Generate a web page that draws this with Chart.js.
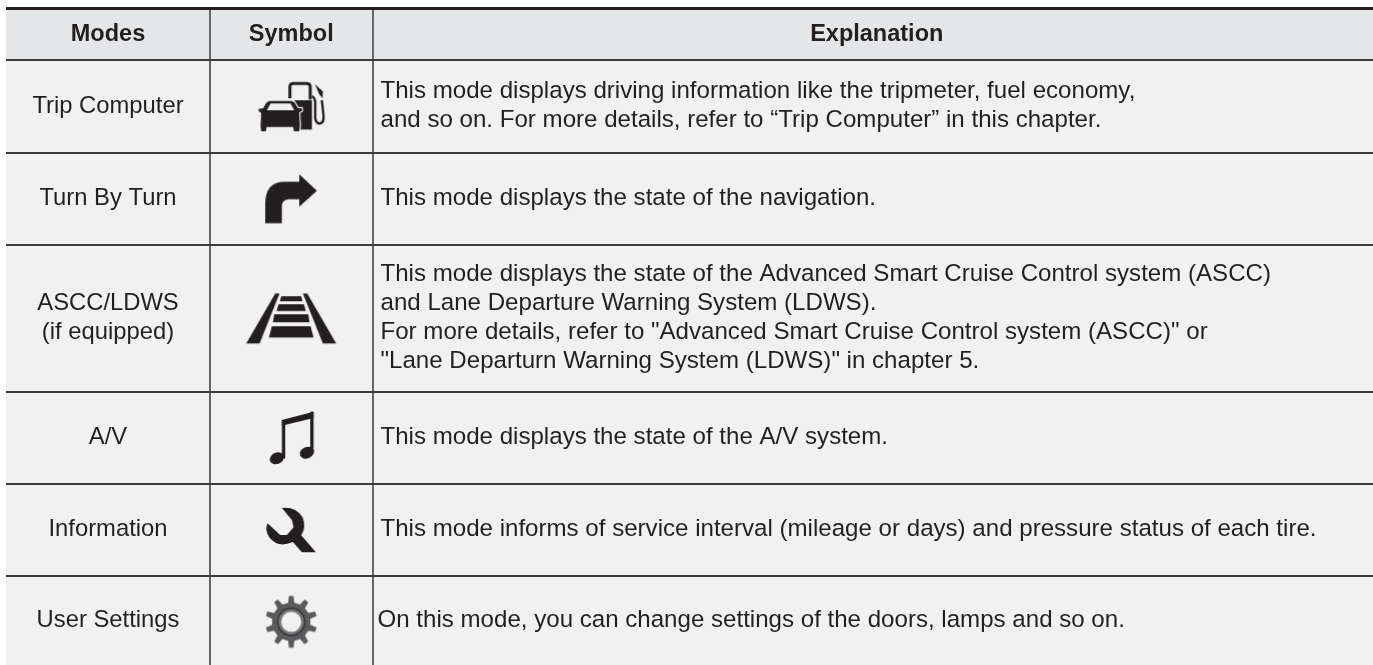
<!DOCTYPE html>
<html>
<head>
<meta charset="utf-8">
<style>
html, body { margin:0; padding:0; background:#fff; overflow:hidden; }
canvas { display:block; }
</style>
<script src="https://cdn.jsdelivr.net/npm/chart.js@4/dist/chart.umd.min.js"></script>
</head>
<body>
<canvas id="modesTable" width="1373" height="665"></canvas>
<script>
// table data
const columnEdges = [6, 210, 372.5, 1373];
const rowEdges = [8, 60, 152.5, 244.5, 392, 484, 576, 665];
const headers = ['Modes', 'Symbol', 'Explanation'];
const modes = [['Trip Computer'], ['Turn By Turn'], ['ASCC/LDWS', '(if equipped)'], ['A/V'], ['Information'], ['User Settings']];
const symbols = ['fuel', 'turn', 'lane', 'music', 'wrench', 'gear'];
const explanations = [
    ['This mode displays driving information like the tripmeter, fuel economy,', 'and so on. For more details, refer to “Trip Computer” in this chapter.'],
    ['This mode displays the state of the navigation.'],
    ['This mode displays the state of the Advanced Smart Cruise Control system (ASCC)', 'and Lane Departure Warning System (LDWS).', 'For more details, refer to "Advanced Smart Cruise Control system (ASCC)" or', '"Lane Departurn Warning System (LDWS)" in chapter 5.'],
    ['This mode displays the state of the A/V system.'],
    ['This mode informs of service interval (mileage or days) and pressure status of each tire.'],
    ['On this mode, you can change settings of the doors, lamps and so on.']
];

const INK = '#231f20';
const CELL = '#f1f1f1';
const FONT = '"Liberation Sans", Arial, sans-serif';

function poly(c, pts) {
    c.beginPath();
    pts.forEach((p, i) => i ? c.lineTo(p[0], p[1]) : c.moveTo(p[0], p[1]));
    c.closePath();
    c.fill();
}

// symbol glyphs, in units of 1/3 px around the cell centre
const glyphs = {
    fuel(c) {
        c.strokeStyle = INK;
        c.lineWidth = 9;
        c.lineJoin = 'round';
        c.beginPath();
        c.moveTo(-4, -24);
        c.lineTo(-4, -58);
        c.quadraticCurveTo(-4, -68, 6, -68);
        c.lineTo(46, -68);
        c.quadraticCurveTo(57, -68, 57, -58);
        c.lineTo(57, -20);
        c.stroke();
        poly(c, [[7, -18], [62, -18], [62, 70], [7, 70]]);
        c.lineWidth = 7;
        c.beginPath();
        c.moveTo(62, -30);
        c.quadraticCurveTo(74, -26, 72, 0);
        c.lineTo(72, 38);
        c.quadraticCurveTo(76, 52, 85, 52);
        c.quadraticCurveTo(99, 50, 97, 30);
        c.lineTo(92, -18);
        c.stroke();
        poly(c, [[71, -66], [95, -44], [94, -24], [84, -36]]);
        // car with a halo that cuts it out of the pump
        const car = () => {
            c.beginPath();
            c.moveTo(-64, -16);
            c.lineTo(0, -16);
            c.quadraticCurveTo(8, -16, 12, -8);
            c.lineTo(20, 6);
            c.lineTo(32, 6);
            c.lineTo(32, 14);
            c.lineTo(24, 18);
            c.lineTo(26, 58);
            c.lineTo(24, 75);
            c.lineTo(8, 75);
            c.lineTo(6, 62);
            c.lineTo(-74, 62);
            c.lineTo(-76, 75);
            c.lineTo(-90, 75);
            c.lineTo(-92, 60);
            c.lineTo(-90, 20);
            c.lineTo(-98, 14);
            c.lineTo(-98, 8);
            c.lineTo(-84, 6);
            c.lineTo(-76, -8);
            c.quadraticCurveTo(-72, -16, -64, -16);
            c.closePath();
        };
        c.strokeStyle = CELL;
        c.lineWidth = 7;
        car();
        c.stroke();
        c.fillStyle = INK;
        car();
        c.fill();
        c.fillStyle = CELL;
        poly(c, [[-62, -8], [-2, -8], [9, 12], [-73, 12]]);
    },
    turn(c) {
        c.beginPath();
        c.moveTo(-78, 74);
        c.lineTo(-78, 15);
        c.quadraticCurveTo(-78, -50, -18, -50);
        c.lineTo(24, -50);
        c.lineTo(24, -73);
        c.lineTo(77, -23);
        c.lineTo(24, 25);
        c.lineTo(24, 2);
        c.lineTo(-8, 2);
        c.quadraticCurveTo(-28, 4, -28, 22);
        c.lineTo(-28, 74);
        c.closePath();
        c.fill();
    },
    lane(c) {
        poly(c, [[-135, 76], [-95, 76], [-35, -74], [-48, -74]]);
        poly(c, [[135, 76], [95, 76], [35, -74], [48, -74]]);
        poly(c, [[-30, -66], [30, -66], [34, -51], [-34, -51]]);
        poly(c, [[-38, -42], [38, -42], [44, -22], [-44, -22]]);
        poly(c, [[-51, -12], [51, -12], [55, 12], [-55, 12]]);
        poly(c, [[-58, 24], [58, 24], [67, 58], [-67, 58]]);
    },
    music(c) {
        poly(c, [[-28, -54], [67, -79], [67, -60], [-28, -37]]);
        c.fillRect(-28, -54, 10, 115);
        c.fillRect(57, -79, 10, 123);
        [[-43, 61], [47, 44]].forEach(p => {
            c.beginPath();
            c.ellipse(p[0], p[1], 22, 17, -0.4, 0, Math.PI * 2);
            c.fill();
        });
    },
    wrench(c) {
        c.beginPath();
        c.moveTo(-28, -66);
        c.quadraticCurveTo(14, -70, 34, -38);
        c.quadraticCurveTo(46, -8, 30, 16);
        c.lineTo(74, 67);
        c.lineTo(32, 67);
        c.lineTo(5, 36);
        c.quadraticCurveTo(-40, 56, -66, 22);
        c.quadraticCurveTo(-80, 0, -71, -20);
        c.lineTo(-33, 15);
        c.lineTo(-13, 15);
        c.lineTo(7, -8);
        c.lineTo(2, -30);
        c.closePath();
        c.fill();
    },
    gear(c) {
        c.translate(0, 4);
        c.fillStyle = '#5a5b5d';
        c.beginPath();
        const teeth = 10;
        for (let i = 0; i < teeth; i++) {
            const a = -Math.PI / 2 + i * 2 * Math.PI / teeth;
            [[-0.16, 58], [-0.09, 78], [0.09, 78], [0.16, 58]].forEach(t => {
                c.lineTo(Math.cos(a + t[0]) * t[1], Math.sin(a + t[0]) * t[1]);
            });
        }
        c.closePath();
        c.fill();
        [[43, '#3a3a3c'], [38, '#77787a'], [30, CELL]].forEach(r => {
            c.fillStyle = r[1];
            c.beginPath();
            c.arc(0, 0, r[0], 0, Math.PI * 2);
            c.fill();
        });
    }
};

function symbolCanvas(name) {
    const cv = document.createElement('canvas');
    cv.width = 120;
    cv.height = 120;
    const c = cv.getContext('2d');
    c.translate(60, 60);
    c.scale(1 / 3, 1 / 3);
    c.fillStyle = INK;
    glyphs[name](c);
    return cv;
}

const middle = (edges, i) => (edges[i] + edges[i + 1]) / 2;

// cell fills, behind the grid
const cellFills = {
    id: 'cellFills',
    beforeDraw(chart) {
        const { ctx, scales: { x, y } } = chart;
        const left = x.getPixelForValue(columnEdges[0]);
        const right = x.getPixelForValue(columnEdges[3]);
        for (let i = 0; i < rowEdges.length - 1; i++) {
            const top = y.getPixelForValue(rowEdges[i]);
            ctx.fillStyle = i === 0 ? '#e5e6e7' : CELL;
            ctx.fillRect(left, top, right - left, y.getPixelForValue(rowEdges[i + 1]) - top);
        }
    }
};

// cell text
const cellText = {
    id: 'cellText',
    afterDatasetsDraw(chart) {
        const { ctx, scales: { x, y } } = chart;
        const lineGap = 29, toBaseline = 6.3;
        ctx.save();
        ctx.fillStyle = INK;
        ctx.textBaseline = 'alphabetic';
        const put = (lines, cy, px) => {
            lines.forEach((t, i) => {
                ctx.fillText(t, px, cy + toBaseline + (i - (lines.length - 1) / 2) * lineGap);
            });
        };
        ctx.font = 'bold 23.5px ' + FONT;
        ctx.textAlign = 'center';
        headers.forEach((h, i) => put([h], y.getPixelForValue(middle(rowEdges, 0)) + 1, x.getPixelForValue(middle(columnEdges, i)) + (i === 2 ? 4 : 0)));
        ctx.font = '23.8px ' + FONT;
        modes.forEach((m, i) => put(m, y.getPixelForValue(middle(rowEdges, i + 1)), x.getPixelForValue(middle(columnEdges, 0))));
        ctx.textAlign = 'left';
        ctx.font = '24.1px ' + FONT;
        explanations.forEach((e, i) => put(e, y.getPixelForValue(middle(rowEdges, i + 1)), x.getPixelForValue(columnEdges[2]) + (i === 5 ? 5 : 8)));
        ctx.restore();
    }
};

new Chart(document.getElementById('modesTable'), {
    type: 'scatter',
    data: {
        datasets: [{
            data: symbols.map((s, i) => ({ x: middle(columnEdges, 1), y: middle(rowEdges, i + 1) })),
            pointStyle: symbols.map(symbolCanvas),
            pointRadius: 40,
            showLine: false
        }]
    },
    options: {
        responsive: false,
        animation: false,
        events: [],
        layout: { autoPadding: false, padding: { left: columnEdges[0], top: rowEdges[0], right: 0, bottom: 0 } },
        plugins: { legend: { display: false }, tooltip: { enabled: false } },
        scales: {
            x: {
                type: 'linear',
                min: columnEdges[0],
                max: columnEdges[3],
                afterBuildTicks: s => { s.ticks = columnEdges.slice(1, 3).map(v => ({ value: v })); },
                ticks: { display: false },
                border: { display: false },
                grid: { color: '#666768', lineWidth: 2, drawTicks: false }
            },
            y: {
                type: 'linear',
                reverse: true,
                min: rowEdges[0],
                max: rowEdges[7],
                afterBuildTicks: s => { s.ticks = rowEdges.slice(0, 7).map(v => ({ value: v })); },
                ticks: { display: false },
                border: { display: false },
                grid: {
                    color: c => c.index === 0 ? INK : '#3c3a3b',
                    lineWidth: c => c.index === 0 ? 3 : 2,
                    drawTicks: false
                }
            }
        }
    },
    plugins: [cellFills, cellText]
});
</script>
</body>
</html>
